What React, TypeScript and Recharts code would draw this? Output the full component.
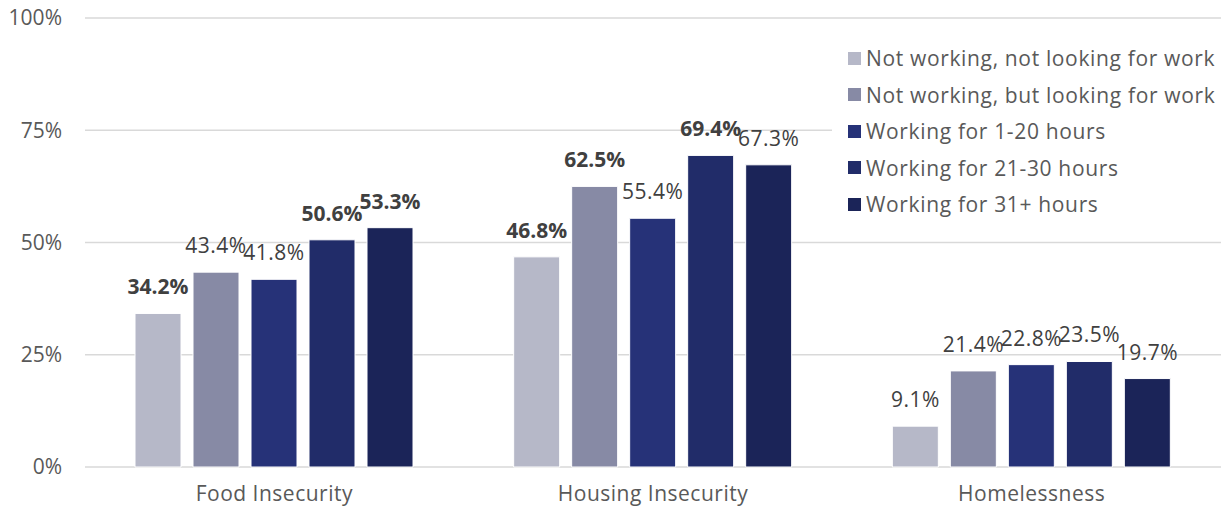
import React from "react";
import {
  BarChart,
  Bar,
  XAxis,
  YAxis,
  CartesianGrid,
  Legend,
  LabelList,
} from "recharts";

const FONT = "'Open Sans', Lato, sans-serif";
const GRID = "#d9d9d9";
const AXIS_TEXT = "#595959";
const LABEL_TEXT = "#404040";

// categories along the x axis
const categories = ["Food Insecurity", "Housing Insecurity", "Homelessness"];

// one value per category, in percent
const notLooking = [34.2, 46.8, 9.1];
const looking = [43.4, 62.5, 21.4];
const hours1to20 = [41.8, 55.4, 22.8];
const hours21to30 = [50.6, 69.4, 23.5];
const hours31plus = [53.3, 67.3, 19.7];

// which data labels are printed in bold
const boldNotLooking = [true, true, false];
const boldLooking = [false, true, false];
const bold1to20 = [false, false, false];
const bold21to30 = [true, true, false];
const bold31plus = [true, false, false];

const yTicks = [0, 25, 50, 75, 100];

const series = [
  { key: "notLooking", name: "Not working, not looking for work", values: notLooking, bold: boldNotLooking, color: "#b6b8c8" },
  { key: "looking", name: "Not working, but looking for work", values: looking, bold: boldLooking, color: "#878aa5" },
  { key: "h1", name: "Working for 1-20 hours", values: hours1to20, bold: bold1to20, color: "#263278" },
  { key: "h21", name: "Working for 21-30 hours", values: hours21to30, bold: bold21to30, color: "#212c69" },
  { key: "h31", name: "Working for 31+ hours", values: hours31plus, bold: bold31plus, color: "#1b2458" },
];

const data = categories.map((category, i) => {
  const row: Record<string, string | number> = { category };
  series.forEach((s) => {
    row[s.key] = s.values[i];
  });
  return row;
});

function makeLabel(bold: boolean[]) {
  return (props: any) => {
    const { x, y, width, value, index } = props;
    const isBold = bold[index];
    return (
      <text
        x={Number(x) + Number(width) / 2}
        y={Number(y) - 19}
        textAnchor="middle"
        fill={LABEL_TEXT}
        fontSize={21}
        fontFamily={FONT}
        fontWeight={isBold ? 700 : 400}
        letterSpacing={isBold ? 0 : 0.5}
      >
        {`${value}%`}
      </text>
    );
  };
}

function LegendBox() {
  return (
    <div style={{ background: "#fff", paddingTop: 6, paddingBottom: 6 }}>
      {series.map((s) => (
        <div
          key={s.key}
          style={{
            display: "flex",
            alignItems: "center",
            height: 36.5,
            fontFamily: FONT,
            fontSize: 21,
            letterSpacing: 0.65,
            color: AXIS_TEXT,
            whiteSpace: "nowrap",
          }}
        >
          <span style={{ display: "inline-block", width: 13, height: 13, background: s.color, marginLeft: 16, marginRight: 5 }} />
          <span>{s.name}</span>
        </div>
      ))}
    </div>
  );
}

export default function App() {
  return (
    <div style={{ position: "absolute", left: 0, top: 0, background: "#fff" }}>
      <BarChart
        width={1225}
        height={508}
        data={data}
        margin={{ top: 18, right: 4, bottom: 0, left: 0 }}
        barCategoryGap={50}
        barGap={12}
        style={{ fontFamily: FONT }}
      >
        <CartesianGrid vertical={false} stroke={GRID} strokeWidth={1.5} />
        <XAxis
          dataKey="category"
          height={41}
          axisLine={false}
          tickLine={false}
          tickSize={0}
          tickMargin={19}
          tick={{ fontSize: 21, fill: AXIS_TEXT, fontFamily: FONT, letterSpacing: 0.5 }}
        />
        <YAxis
          width={85}
          domain={[0, 100]}
          ticks={yTicks}
          axisLine={false}
          tickLine={false}
          tickSize={0}
          tickMargin={23}
          tickFormatter={(v) => `${v}%`}
          tick={{ fontSize: 21, fill: AXIS_TEXT, fontFamily: FONT }}
        />
        <Legend
          layout="vertical"
          align="center"
          verticalAlign="middle"
          content={() => <LegendBox />}
          wrapperStyle={{ left: 832, top: 34, width: 393 }}
        />
        {series.map((s) => (
          <Bar key={s.key} dataKey={s.key} name={s.name} fill={s.color} stroke="#ffffff" strokeWidth={1} isAnimationActive={false}>
            <LabelList dataKey={s.key} content={makeLabel(s.bold)} />
          </Bar>
        ))}
      </BarChart>
    </div>
  );
}
